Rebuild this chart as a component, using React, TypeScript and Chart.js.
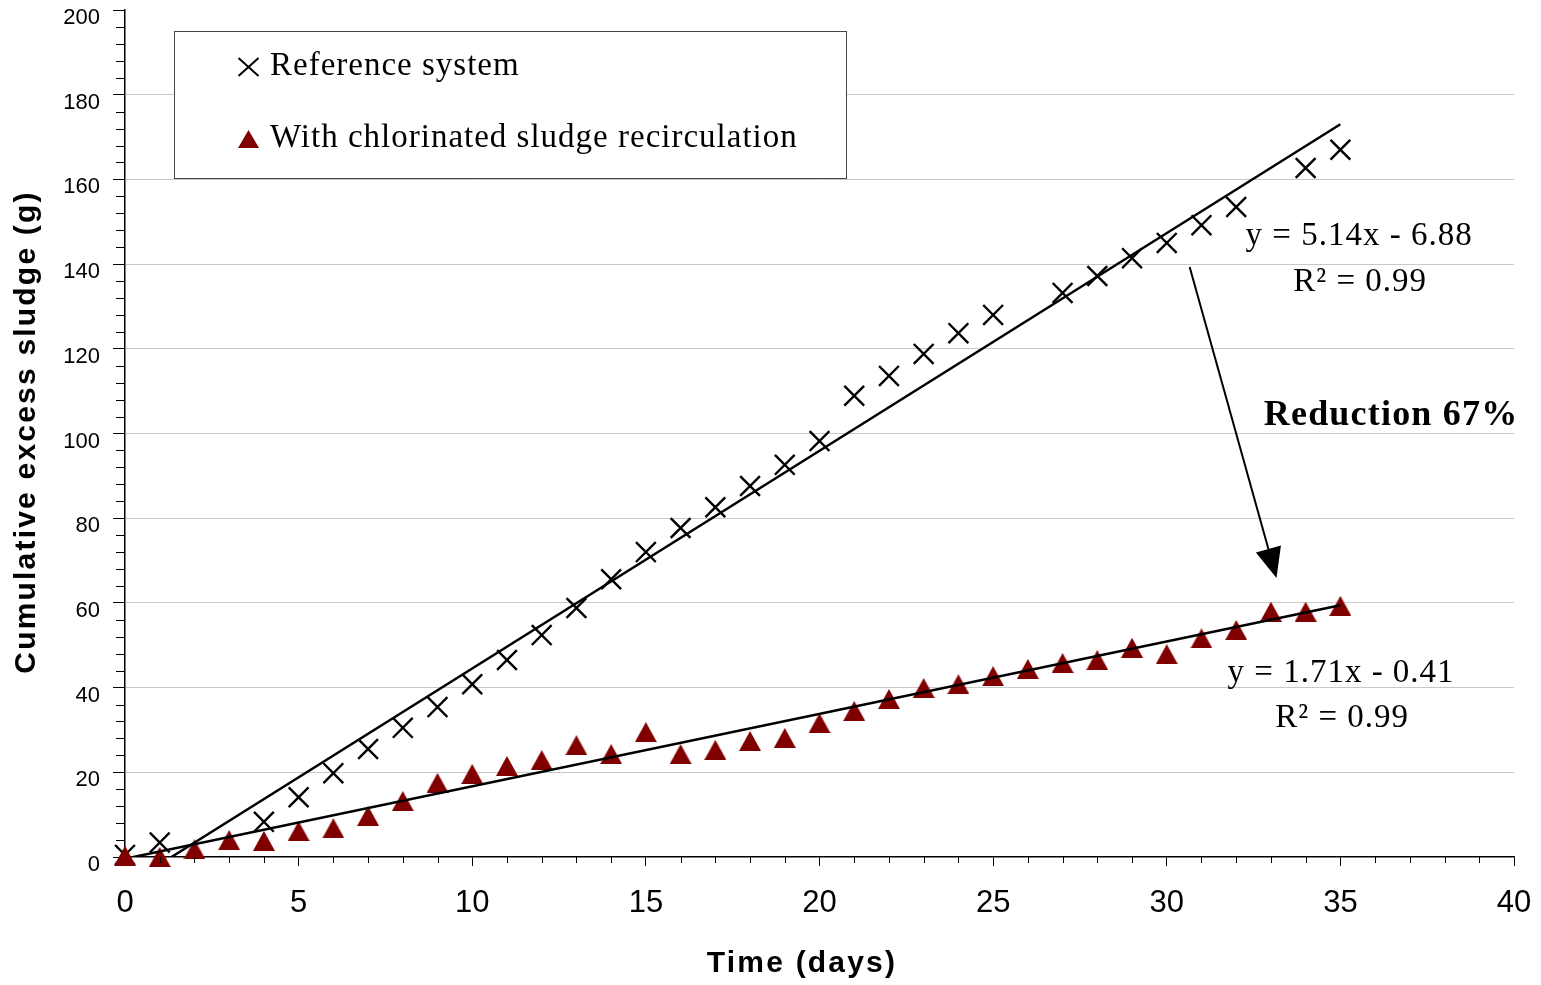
import React, { useEffect, useRef } from "react";
import { Chart, registerables } from "chart.js";

Chart.register(...registerables);

// ---- data ----
const refDays = [0, 1, 4, 5, 6, 7, 8, 9, 10, 11, 12, 13, 14, 15, 16, 17, 18, 19, 20, 21, 22, 23, 24, 25, 27, 28, 29, 30, 31, 32, 34, 35];
const refSludge = [0.5, 3.4, 8.3, 14.1, 19.8, 25.5, 30.5, 35.4, 40.8, 46.5, 52.4, 58.8, 65.6, 72.0, 77.7, 82.6, 87.6, 92.6, 98.2, 108.9, 113.6, 118.8, 123.7, 128.0, 133.2, 137.2, 141.4, 145.0, 149.2, 153.5, 162.7, 167.0];

const chlorDays = [0, 1, 2, 3, 4, 5, 6, 7, 8, 9, 10, 11, 12, 13, 14, 15, 16, 17, 18, 19, 20, 21, 22, 23, 24, 25, 26, 27, 28, 29, 30, 31, 32, 33, 34, 35];
const chlorSludge = [0.3, 0, 1.8, 4.0, 3.8, 6.1, 6.8, 9.7, 13.2, 17.5, 19.6, 21.5, 22.9, 26.4, 24.3, 29.5, 24.3, 25.3, 27.4, 28.1, 31.6, 34.5, 37.3, 39.9, 40.8, 42.7, 44.4, 45.8, 46.5, 49.4, 47.9, 51.6, 53.6, 57.9, 57.9, 59.3];

const refFit = { slope: 5.14, intercept: -6.88 };
const chlorFit = { slope: 1.71, intercept: -0.41 };
const fitEndDay = 35;

const xRange = [0, 40];
const yRange = [0, 200];
const xStep = 5;
const yStep = 20;

const legendLabels = ["Reference system", "With chlorinated sludge recirculation"];
const xTitle = "Time (days)";
const yTitle = "Cumulative excess sludge (g)";
const refEquation = "y = 5.14x - 6.88";
const chlorEquation = "y = 1.71x - 0.41";
const r2Label = "R\u00B2 = 0.99";
const reductionLabel = "Reduction 67%";

// annotation anchors in data units
const refEqAt = { x: 35.54, y: 144.5 };
const refR2At = { x: 35.57, y: 133.6 };
const reductionAt = { x: 36.46, y: 102.0 };
const chlorEqAt = { x: 35.02, y: 41.3 };
const chlorR2At = { x: 35.05, y: 30.7 };
const arrowFrom = { x: 30.66, y: 139.3 };
const arrowTo = { x: 33.16, y: 65.9 };

const MAROON = "#800000";
const SANS = "'Liberation Sans', Arial, sans-serif";
const SERIF = "'Liberation Serif', 'Times New Roman', serif";

function makeTriangle(w: number, h: number, color: string) {
  const c = document.createElement("canvas");
  c.width = w;
  c.height = h;
  const g = c.getContext("2d")!;
  g.fillStyle = color;
  g.beginPath();
  g.moveTo(w / 2, 0);
  g.lineTo(w, h);
  g.lineTo(0, h);
  g.closePath();
  g.fill();
  return c;
}

export default function App() {
  const ref = useRef<HTMLCanvasElement | null>(null);

  useEffect(() => {
    if (!ref.current) return;
    const tri = makeTriangle(22, 20, MAROON);
    const legendTri = makeTriangle(21, 18, MAROON);

    const overlay = {
      id: "overlay",
      afterDraw(chart: any) {
        const { ctx, chartArea } = chart;
        const xs = chart.scales.x;
        const ys = chart.scales.y;
        const px = (v: number) => xs.getPixelForValue(v);
        const py = (v: number) => ys.getPixelForValue(v);
        const spacing = (s: string) => {
          (ctx as any).letterSpacing = s;
        };
        ctx.save();
        // minor ticks
        ctx.strokeStyle = "#000";
        ctx.lineWidth = 1;
        ctx.beginPath();
        for (let v = xRange[0] + 1; v < xRange[1]; v++) {
          if (v % xStep === 0) continue;
          const p = Math.round(px(v)) + 0.5;
          ctx.moveTo(p, chartArea.bottom);
          ctx.lineTo(p, chartArea.bottom + 6);
        }
        for (let v = yRange[0] + 4; v < yRange[1]; v += 4) {
          if (v % yStep === 0) continue;
          const p = Math.round(py(v)) + 0.5;
          ctx.moveTo(chartArea.left - 9, p);
          ctx.lineTo(chartArea.left, p);
        }
        ctx.stroke();

        // axis titles
        ctx.fillStyle = "#000";
        ctx.textAlign = "center";
        ctx.textBaseline = "alphabetic";
        ctx.font = `bold 30px ${SANS}`;
        spacing("2.2px");
        ctx.fillText(xTitle, 802, 972);
        ctx.save();
        ctx.translate(35, 432);
        ctx.rotate(-Math.PI / 2);
        ctx.fillText(yTitle, 0, 0);
        ctx.restore();
        spacing("0px");

        // legend box
        const lx = chartArea.left + 49;
        const ly = chartArea.top + 21;
        ctx.fillStyle = "#fff";
        ctx.fillRect(lx, ly, 672, 147);
        ctx.strokeStyle = "#444";
        ctx.lineWidth = 1;
        ctx.strokeRect(lx + 0.5, ly + 0.5, 672, 147);
        // legend markers
        const mx = lx + 74.5;
        ctx.strokeStyle = "#000";
        ctx.lineWidth = 2;
        ctx.beginPath();
        ctx.moveTo(mx - 10, ly + 27);
        ctx.lineTo(mx + 10, ly + 45);
        ctx.moveTo(mx + 10, ly + 27);
        ctx.lineTo(mx - 10, ly + 45);
        ctx.stroke();
        ctx.drawImage(legendTri, mx - 10.5, ly + 99);
        ctx.fillStyle = "#000";
        ctx.textAlign = "left";
        ctx.textBaseline = "alphabetic";
        ctx.font = `33px ${SERIF}`;
        spacing("1px");
        ctx.fillText(legendLabels[0], lx + 96, ly + 44);
        ctx.fillText(legendLabels[1], lx + 96, ly + 116);

        // equations
        ctx.textAlign = "center";
        ctx.fillText(refEquation, px(refEqAt.x), py(refEqAt.y));
        ctx.fillText(r2Label, px(refR2At.x), py(refR2At.y));
        ctx.fillText(chlorEquation, px(chlorEqAt.x), py(chlorEqAt.y));
        ctx.fillText(r2Label, px(chlorR2At.x), py(chlorR2At.y));
        ctx.font = `bold 36px ${SERIF}`;
        spacing("1.2px");
        ctx.fillText(reductionLabel, px(reductionAt.x), py(reductionAt.y));
        spacing("0px");

        // arrow
        const x1 = px(arrowFrom.x), y1 = py(arrowFrom.y);
        const x2 = px(arrowTo.x), y2 = py(arrowTo.y);
        const ang = Math.atan2(y2 - y1, x2 - x1);
        const headL = 30, headW = 13;
        const bx = x2 - Math.cos(ang) * headL;
        const by = y2 - Math.sin(ang) * headL;
        ctx.strokeStyle = "#000";
        ctx.lineWidth = 2;
        ctx.beginPath();
        ctx.moveTo(x1, y1);
        ctx.lineTo(bx, by);
        ctx.stroke();
        ctx.beginPath();
        ctx.moveTo(x2, y2);
        ctx.lineTo(bx + Math.sin(ang) * headW, by - Math.cos(ang) * headW);
        ctx.lineTo(bx - Math.sin(ang) * headW, by + Math.cos(ang) * headW);
        ctx.closePath();
        ctx.fillStyle = "#000";
        ctx.fill();
        ctx.restore();
      },
    };

    const fitLine = (f: { slope: number; intercept: number }) => [
      { x: -f.intercept / f.slope, y: 0 },
      { x: fitEndDay, y: f.slope * fitEndDay + f.intercept },
    ];

    const chart = new Chart(ref.current, {
      type: "scatter",
      data: {
        datasets: [
          {
            label: "refFit",
            data: fitLine(refFit),
            showLine: true,
            pointRadius: 0,
            borderColor: "#000",
            borderWidth: 2.5,
            order: 0,
          } as any,
          {
            label: "chlorFit",
            data: fitLine(chlorFit),
            showLine: true,
            pointRadius: 0,
            borderColor: "#000",
            borderWidth: 2.5,
            order: 0,
          } as any,
          {
            label: legendLabels[1],
            data: chlorDays.map((d, i) => ({ x: d, y: chlorSludge[i] })),
            pointStyle: tri,
            pointRadius: 11,
            clip: false,
            order: 1,
          } as any,
          {
            label: legendLabels[0],
            data: refDays.map((d, i) => ({ x: d, y: refSludge[i] })),
            pointStyle: "crossRot",
            pointRadius: 14,
            borderColor: "#000",
            pointBorderWidth: 2.4,
            clip: false,
            order: 2,
          } as any,
        ],
      },
      options: {
        animation: false,
        responsive: false,
        devicePixelRatio: 1,
        layout: { autoPadding: false, padding: { left: 0, top: 10, right: 27, bottom: 0 } },
        plugins: { legend: { display: false }, tooltip: { enabled: false } },
        scales: {
          x: {
            type: "linear",
            min: xRange[0],
            max: xRange[1],
            ticks: {
              stepSize: xStep,
              autoSkip: false,
              maxRotation: 0,
              color: "#000",
              padding: 19,
              font: { family: SANS, size: 31 },
            },
            grid: { drawOnChartArea: false, drawTicks: true, tickLength: 9, tickColor: "#000", tickWidth: 1 },
            border: { display: true, color: "#000", width: 1.5 },
            afterFit: (s: any) => {
              s.height = 128;
              s.paddingLeft = 0;
              s.paddingRight = 0;
            },
          },
          y: {
            type: "linear",
            min: yRange[0],
            max: yRange[1],
            ticks: {
              stepSize: yStep,
              color: "#000",
              padding: 13,
              labelOffset: 8,
              font: { family: SANS, size: 22 },
            },
            grid: {
              color: (c: any) =>
                c.tick && (c.tick.value === yRange[0] || c.tick.value === yRange[1]) ? "rgba(0,0,0,0)" : "#c8c8c8",
              lineWidth: 1,
              tickColor: "#000",
              tickLength: 12,
              drawTicks: true,
            },
            border: { display: true, color: "#000", width: 1.5 },
            afterFit: (s: any) => {
              s.width = 125;
              s.paddingTop = 0;
              s.paddingBottom = 0;
            },
          },
        },
      },
      plugins: [overlay],
    } as any);

    return () => chart.destroy();
  }, []);

  return (
    <div style={{ position: "absolute", left: 0, top: 0, width: 1541, height: 985, background: "#fff" }}>
      <canvas ref={ref} width={1541} height={985} style={{ display: "block" }} />
    </div>
  );
}
